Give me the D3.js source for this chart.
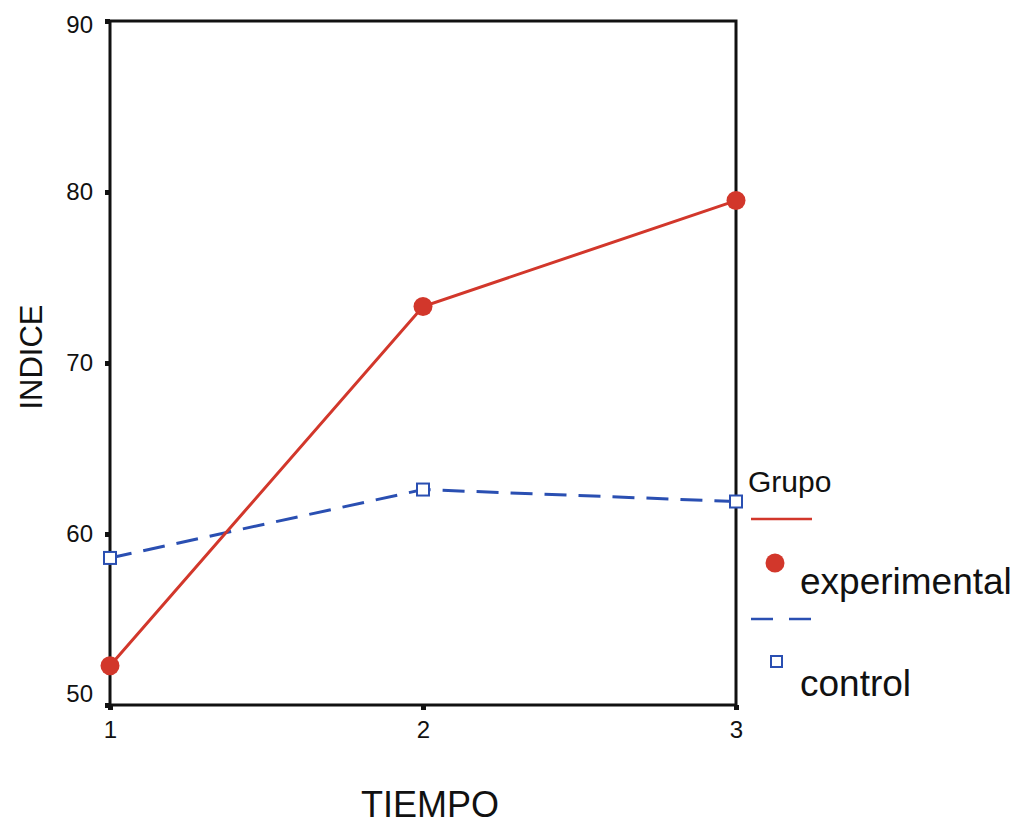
<!DOCTYPE html>
<html lang="es">
  <head>
    <meta charset="utf-8">
    <title>INDICE por TIEMPO</title>
    <script src="https://cdn.jsdelivr.net/npm/d3@7/dist/d3.min.js"></script>
    <style>
      body { margin: 0; background: #fff; }
      text { font-family: "Liberation Sans", Arial, sans-serif; fill: #111; }
    </style>
  </head>
  <body>
    <script>
      var tiempos = [1, 2, 3];
      var experimental = [52.3, 73.3, 79.5];
      var control = [58.6, 62.6, 61.9];
      var yTicks = [50, 60, 70, 80, 90];

      var w = 1020, h = 826;
      var red = "#d2372b", blue = "#2a4fb2";

      var svg = d3.select("body").append("svg")
                  .attr("width", w)
                  .attr("height", h);

      var x = d3.scaleLinear().domain([1, 3]).range([110, 736]);
      var y = d3.scaleLinear().domain([50, 90]).range([705, 21]);

      // frame
      svg.append("rect")
         .attr("x", x(1)).attr("y", y(90))
         .attr("width", x(3) - x(1)).attr("height", y(50) - y(90))
         .attr("fill", "none").attr("stroke", "#111").attr("stroke-width", 3);

      var yAxis = svg.append("g")
         .attr("transform", "translate(" + x(1) + ",0)")
         .call(d3.axisLeft(y).tickValues(yTicks).tickSize(5).tickPadding(12));
      var xAxis = svg.append("g")
         .attr("transform", "translate(0," + y(50) + ")")
         .call(d3.axisBottom(x).tickValues(tiempos).tickFormat(d3.format("d")).tickSize(5).tickPadding(11));
      [yAxis, xAxis].forEach(function (g) {
        g.select(".domain").remove();
        g.selectAll(".tick line").attr("stroke", "#111").attr("stroke-width", 5);
        g.selectAll("text").attr("font-size", "24px").attr("fill", "#111");
      });
      // end labels nudged inside like the original
      yAxis.selectAll(".tick text")
           .attr("y", function (d) { return d === 50 ? -11 : d === 90 ? 4 : 0; });

      var line = d3.line()
        .x(function (d, i) { return x(tiempos[i]); })
        .y(function (d) { return y(d); });

      svg.append("path").datum(control)
         .attr("d", line).attr("fill", "none")
         .attr("stroke", blue).attr("stroke-width", 3)
         .attr("stroke-dasharray", "22,12");
      svg.append("path").datum(experimental)
         .attr("d", line).attr("fill", "none")
         .attr("stroke", red).attr("stroke-width", 3);

      svg.selectAll("circle.exp").data(experimental).enter()
         .append("circle").attr("class", "exp")
         .attr("cx", function (d, i) { return x(tiempos[i]); })
         .attr("cy", function (d) { return y(d); })
         .attr("r", 9.5).attr("fill", red);

      svg.selectAll("rect.ctl").data(control).enter()
         .append("rect").attr("class", "ctl")
         .attr("x", function (d, i) { return x(tiempos[i]) - 6; })
         .attr("y", function (d) { return y(d) - 6; })
         .attr("width", 12).attr("height", 12)
         .attr("fill", "#fff").attr("stroke", blue).attr("stroke-width", 2);

      // axis titles
      svg.append("text")
         .attr("transform", "translate(42,357) rotate(-90)")
         .attr("text-anchor", "middle")
         .attr("font-size", "31px")
         .text("INDICE");
      svg.append("text")
         .attr("x", 430).attr("y", 817)
         .attr("text-anchor", "middle")
         .attr("font-size", "36px")
         .text("TIEMPO");

      // legend
      var lg = svg.append("g");
      lg.append("text").attr("x", 748).attr("y", 492)
        .attr("font-size", "30px").text("Grupo");
      lg.append("line").attr("x1", 751).attr("x2", 812).attr("y1", 519).attr("y2", 519)
        .attr("stroke", red).attr("stroke-width", 2.5);
      lg.append("circle").attr("cx", 775).attr("cy", 563).attr("r", 9.5).attr("fill", red);
      lg.append("text").attr("x", 800).attr("y", 594)
        .attr("font-size", "37px").text("experimental");
      lg.append("line").attr("x1", 751).attr("x2", 812).attr("y1", 619).attr("y2", 619)
        .attr("stroke", blue).attr("stroke-width", 2.5).attr("stroke-dasharray", "22,16");
      lg.append("rect").attr("x", 771).attr("y", 656).attr("width", 11).attr("height", 11)
        .attr("fill", "#fff").attr("stroke", blue).attr("stroke-width", 2);
      lg.append("text").attr("x", 800).attr("y", 696)
        .attr("font-size", "37px").text("control");
    </script>
  </body>
</html>
